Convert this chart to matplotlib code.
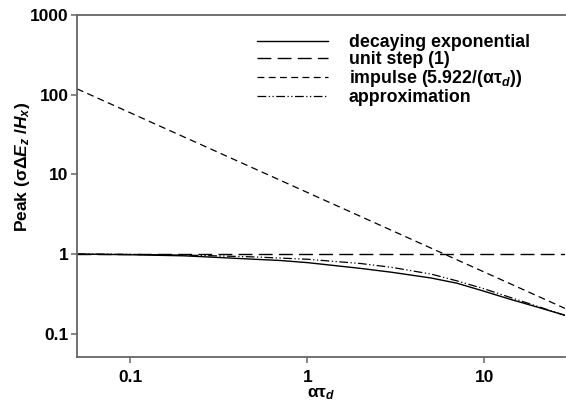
import numpy as np
import matplotlib
matplotlib.use('Agg')
import matplotlib.pyplot as plt

plt.rcParams['font.family'] = ['Liberation Sans', 'DejaVu Sans']
plt.rcParams['font.weight'] = 'bold'
plt.rcParams['mathtext.fontset'] = 'custom'
plt.rcParams['mathtext.rm'] = 'Liberation Sans:bold'
plt.rcParams['mathtext.it'] = 'Liberation Sans:bold:italic'
plt.rcParams['mathtext.bf'] = 'Liberation Sans:bold'

# Data
x_pts = np.array([0.05, 0.1, 0.2, 0.3, 0.5, 0.7, 1.0, 2.0, 3.0, 5.0, 7.0,
                  10.0, 14.0, 20.0, 28.5])
decaying = np.array([1.0, 0.98, 0.95, 0.91, 0.86, 0.83, 0.78, 0.66, 0.59,
                     0.50, 0.43, 0.34, 0.27, 0.215, 0.17])
approx = np.array([1.0, 0.99, 0.97, 0.95, 0.92, 0.89, 0.86, 0.76, 0.68,
                   0.56, 0.46, 0.365, 0.285, 0.22, 0.17])
step = np.ones_like(x_pts)
impulse_coef = 5.922
x_imp = np.array([0.05, 28.5])

labels = ['decaying exponential', 'unit step (1)',
          r'impulse (5.922/(ατ$_d$))', 'approximation']

fig = plt.figure(figsize=(5.66, 4.08), dpi=100)
ax = fig.add_axes([77/566, 1 - 357/408, 488/566, 342/408])

ax.plot(x_pts, decaying, color='black', lw=1.0, label=labels[0])
ax.plot(x_pts, step, color='black', lw=1.0, dashes=(10, 4.5), label=labels[1])
ax.plot(x_imp, impulse_coef / x_imp, color='black', lw=0.9,
        dashes=(5.5, 3.5), label=labels[2])
ax.plot(x_pts, approx, color='black', lw=0.9,
        dashes=(7, 2, 1, 2, 1, 2), label=labels[3])

ax.set_xscale('log')
ax.set_yscale('log')
ax.set_xlim(0.05, 28.5)
ax.set_ylim(0.051, 1000)
ax.set_xticks([0.1, 1, 10])
ax.set_xticklabels(['0.1', '1', '10'])
ax.set_yticks([0.1, 1, 10, 100, 1000])
ax.set_yticklabels(['0.1', '1', '10', '100', '1000'])
ax.minorticks_off()

for s in ['left', 'bottom', 'top']:
    ax.spines[s].set_color('#666666')
    ax.spines[s].set_linewidth(1.3)
ax.spines['right'].set_visible(False)
ax.tick_params(axis='both', direction='out', length=4, width=1.1,
               color='#666666', labelsize=12.5)
ax.tick_params(axis='x', pad=5)
ax.tick_params(axis='y', pad=2)

ax.set_xlabel(r'ατ$_d$', fontsize=12.5, fontweight='bold', labelpad=1)
ax.set_ylabel(r'Peak (σΔ$E_z$ /$H_x$)', fontsize=12.5, fontweight='bold')
ax.yaxis.set_label_coords(-0.092, 0.555)

ax.legend(loc='upper left', bbox_to_anchor=(0.369, 0.945), frameon=False,
          fontsize=12.8, handlelength=4.0, handletextpad=1.15,
          labelspacing=0.0, borderpad=0, borderaxespad=0)

fig.savefig('out.png', dpi=100)
